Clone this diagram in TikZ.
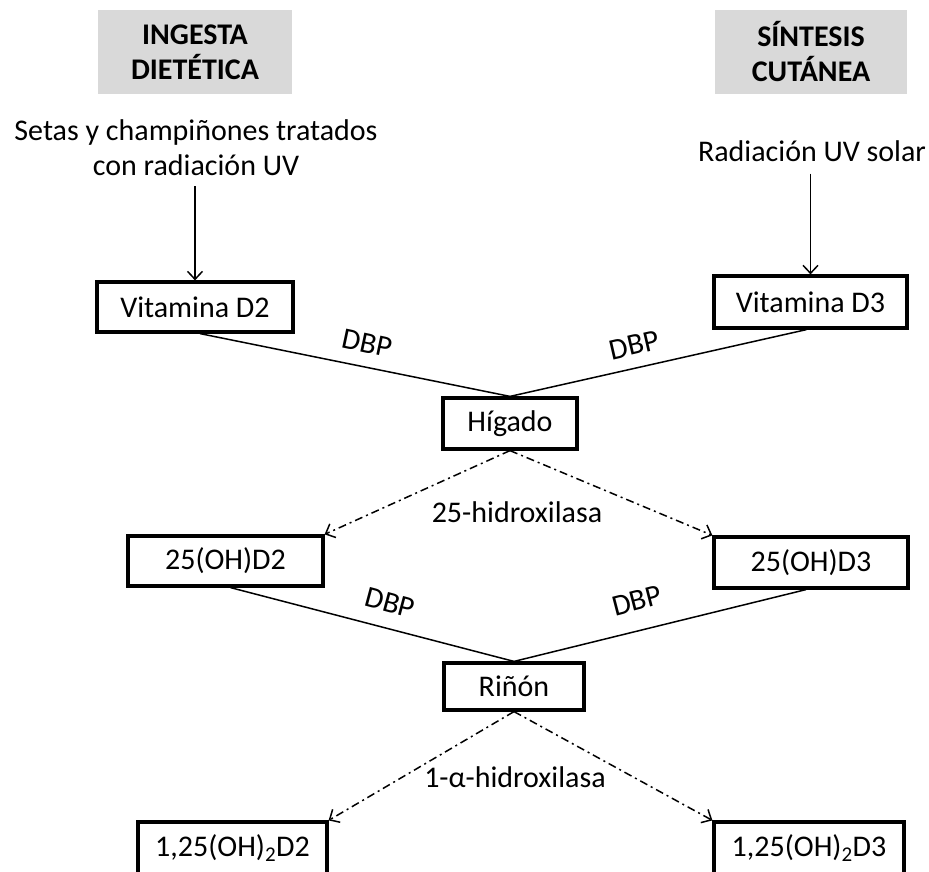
\documentclass[tikz,border=0pt]{standalone}
\usepackage{fontspec}
\setmainfont{Carlito}
\usetikzlibrary{arrows.meta}
\definecolor{titlegray}{HTML}{D9D9D9}
\begin{document}
\begin{tikzpicture}[x=1pt,y=-1pt,
  every node/.style={font=\fontsize{30}{35}\selectfont, text=black},
  titlebox/.style={fill=titlegray, minimum width=194pt, minimum height=84pt, inner sep=0pt, align=center, font=\fontsize{30}{35}\selectfont\bfseries},
  box/.style={draw, line width=3.2pt, minimum height=50pt, inner sep=0pt},
  link/.style={line width=1.5pt},
  flow/.style={line width=1.5pt, -{Straight Barb[length=8pt,width=15pt]}},
  enz/.style={line width=1.5pt, dash pattern=on 8pt off 4pt on 2pt off 4pt, -{Straight Barb[length=8pt,width=15pt]}},
  lab/.style={inner sep=0pt}
]
\useasboundingbox (0,0) rectangle (929,872);
\clip (0,0) rectangle (929,872);

% titles
\node[titlebox] (t1) at (195,52) {INGESTA\\DIETÉTICA};
\node[titlebox, minimum width=192pt] (t2) at (811,52) {SÍNTESIS\\CUTÁNEA};

% sources
\node[align=center, inner sep=0pt] (setas) at (196,148) {Setas y champiñones tratados\\con radiación UV};
\node[inner sep=0pt] (uv) at (812,151) {Radiación UV solar};

% boxes
\node[box, minimum width=196pt] (vd2) at (195,307) {Vitamina D2};
\node[box, minimum width=193pt, minimum height=52pt] (vd3) at (810.5,302) {Vitamina D3};
\node[box, minimum width=134pt, minimum height=51pt] (hig) at (510,423.5) {Hígado};
\node[box, minimum width=195pt] (oh2) at (225.5,561) {25(OH)D2};
\node[box, minimum width=194pt, minimum height=51pt] (oh3) at (811,562.5) {25(OH)D3};
\node[box, minimum width=140pt, minimum height=47pt] (rin) at (514,686.5) {Riñón};
\node[box, minimum width=189pt, minimum height=52pt] (f2) at (232.5,848) {1,25(OH)\textsubscript{2}D2};
\node[box, minimum width=190pt, minimum height=52pt] (f3) at (809,848) {1,25(OH)\textsubscript{2}D3};

% source arrows
\draw[flow, shorten <=10pt] (setas.south -| vd2.north) -- (vd2.north);
\draw[flow, shorten <=12pt] (uv.south -| vd3.north) -- (vd3.north);

% DBP transport
\draw[link] ([xshift=5pt]vd2.south) -- (hig.north);
\draw[link] ([xshift=-4pt]vd3.south) -- (hig.north);
\node[lab, rotate=-12] (dbp1) at (367,343) {DBP};
\node[lab, rotate=13] (dbp2) at (634,345) {DBP};

% 25-hydroxylase
\draw[enz] (hig.south) -- (oh2.north east);
\draw[enz] (hig.south) -- (oh3.north west);
\node[lab] (h25) at (517,512) {25-hidroxilasa};

% DBP second row
\draw[link] ([xshift=5pt]oh2.south) -- (rin.north);
\draw[link] ([xshift=-5pt]oh3.south) -- (rin.north);
\node[lab, rotate=-15] (dbp3) at (390,603) {DBP};
\node[lab, rotate=14.5] (dbp4) at (637,601) {DBP};

% 1-alpha-hydroxylase
\draw[enz] (rin.south) -- (f2.north east);
\draw[enz] (rin.south) -- (f3.north west);
\node[lab] (h1a) at (515,777) {1-α-hidroxilasa};
\end{tikzpicture}
\end{document}
